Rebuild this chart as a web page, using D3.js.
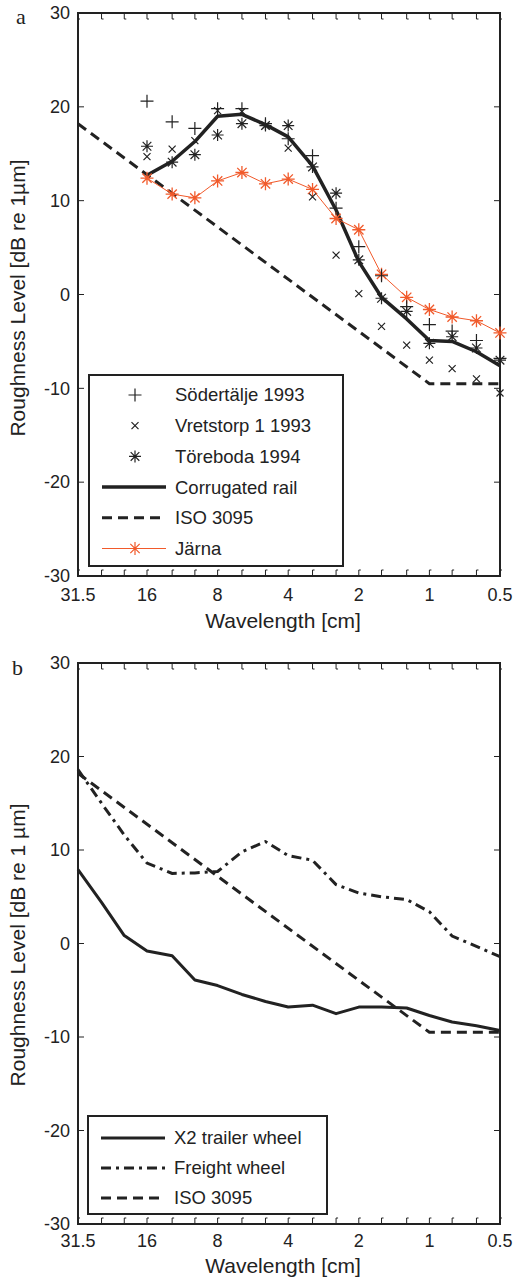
<!DOCTYPE html>
<html>
<head>
<meta charset="utf-8">
<script src="https://cdn.jsdelivr.net/npm/d3@7"></script>
<style>
  body { margin: 0; background: #fff; }
  text { fill: #222; }
</style>
</head>
<body>
<svg id="svg"></svg>
<script>
// third-octave band centre wavelengths [cm]
const bands = [31.5, 25, 20, 16, 12.5, 10, 8, 6.3, 5, 4, 3.15, 2.5, 2, 1.6, 1.25, 1, 0.8, 0.63, 0.5];
const xTickLabels = [31.5, 16, 8, 4, 2, 1, 0.5];
const yTicks = [-30, -20, -10, 0, 10, 20, 30];

// panel a (bands 16 .. 0.5 cm)
const bandsA = bands.slice(3);
const sodertalje = [20.6, 18.4, 17.7, 19.8, 19.8, 18.2, 16.6, 14.8, 9.2, 5.1, 2.0, -1.3, -3.2, -3.9, -4.9, -6.8];
const vretstorp = [14.7, 15.5, 16.4, 19.6, 19.5, 18.0, 15.6, 10.4, 4.2, 0.1, -3.4, -5.4, -7.0, -7.9, -9.0, -10.5];
const toreboda = [15.8, 14.1, 14.9, 17.0, 18.2, 18.0, 18.0, 13.6, 10.8, 3.7, -0.4, -1.8, -5.2, -4.5, -5.7, -7.0];
const corrugated = [12.7, 14.2, 16.3, 19.0, 19.2, 18.1, 16.8, 13.7, 9.0, 3.5, -0.3, -2.6, -4.9, -5.0, -6.1, -7.6];
const jarna = [12.4, 10.7, 10.3, 12.1, 13.0, 11.8, 12.3, 11.2, 8.1, 6.9, 2.15, -0.3, -1.6, -2.4, -2.8, -4.1];

// ISO 3095 limit
const isoBands = [31.5, 1, 0.5];
const isoLevel = [18.2, -9.5, -9.5];

// panel b (all bands)
const x2trailer = [7.9, 4.4, 0.85, -0.8, -1.3, -3.9, -4.5, -5.45, -6.2, -6.8, -6.6, -7.5, -6.8, -6.8, -6.9, -7.7, -8.4, -8.8, -9.3];
const freight = [18.6, 15.0, 11.6, 8.6, 7.5, 7.55, 7.7, 9.8, 10.9, 9.4, 8.9, 6.3, 5.4, 5.0, 4.7, 3.4, 0.8, -0.3, -1.4];

const red = '#f15a2b';
const ink = '#222';
const sans = '"Liberation Sans", Arial, sans-serif';
const serif = '"Liberation Serif", "DejaVu Serif", serif';

let svg = d3.select('#svg').attr('width', 513).attr('height', 1280);

function zip(xs, ys) {
   return xs.map((x, i) => [x, ys[i]]);
}

// marker paths
function plusPath(s) { return `M${-s},0H${s}M0,${-s}V${s}`; }
function crossPath(s) { return `M${-s},${-s}L${s},${s}M${-s},${s}L${s},${-s}`; }
function starPath(s) { return plusPath(s) + crossPath(s * 0.72); }

function addText(g, size) {
   return g.append('text').style('font-family', sans).attr('font-size', size);
}

function drawPanel(cfg) {
   let x = d3.scaleLog().domain([31.5, 0.5]).range([cfg.left, cfg.right]);
   let y = d3.scaleLinear().domain([-30, 30]).range([cfg.bottom, cfg.top]);
   let g = svg.append('g');

   // frame
   g.append('rect')
      .attr('x', cfg.left).attr('y', cfg.top)
      .attr('width', cfg.right - cfg.left).attr('height', cfg.bottom - cfg.top)
      .attr('fill', 'none').attr('stroke', ink).attr('stroke-width', 2);

   // x ticks, all third-octave bands, top and bottom, pointing inwards
   bands.forEach(b => {
      g.append('path')
         .attr('d', `M${x(b)},${cfg.top}v6h2M${x(b)},${cfg.bottom}v-6h2`)
         .attr('fill', 'none').attr('stroke', ink).attr('stroke-width', 1);
   });
   xTickLabels.forEach(b => {
      addText(g, 18)
         .attr('x', x(b)).attr('y', cfg.bottom + cfg.tickDy)
         .attr('text-anchor', 'middle')
         .text(b);
   });

   // y ticks left and right
   yTicks.forEach(v => {
      g.append('path')
         .attr('d', `M${cfg.left},${y(v)}h6M${cfg.right},${y(v)}h-6`)
         .attr('stroke', ink).attr('stroke-width', 1);
      addText(g, 18)
         .attr('x', 70).attr('y', y(v)).attr('dy', '0.35em')
         .attr('text-anchor', 'end')
         .text(v);
   });

   // titles
   addText(g, 21)
      .attr('x', 283).attr('y', cfg.bottom + cfg.titleDy)
      .attr('text-anchor', 'middle')
      .text('Wavelength [cm]');
   addText(g, 21)
      .attr('transform', `translate(25,${cfg.yLabelMid}) rotate(-90)`)
      .attr('text-anchor', 'middle')
      .text(cfg.yLabel);
   g.append('text')
      .attr('x', cfg.labelX).attr('y', cfg.labelY)
      .style('font-family', serif)
      .attr('font-size', 22)
      .text(cfg.label);

   let line = d3.line().x(d => x(d[0])).y(d => y(d[1]));
   return { g: g, x: x, y: y, line: line };
}

function drawLegend(g, box, rows) {
   g.append('rect')
      .attr('x', box.x).attr('y', box.y).attr('width', box.w).attr('height', box.h)
      .attr('fill', '#fff').attr('stroke', ink).attr('stroke-width', 2);
   rows.forEach((r, i) => {
      let cy = box.y + box.first + i * box.step;
      if (r.stroke) {
         g.append('line')
            .attr('x1', box.x + 13).attr('x2', box.x + 77)
            .attr('y1', cy).attr('y2', cy)
            .attr('stroke', r.stroke).attr('stroke-width', r.width)
            .attr('stroke-dasharray', r.dash || null);
      }
      if (r.marker) {
         g.append('path')
            .attr('d', r.marker)
            .attr('transform', `translate(${box.x + 46},${cy})`)
            .attr('fill', 'none').attr('stroke', r.markerColor || ink).attr('stroke-width', 1.2);
      }
      addText(g, 18.5)
         .attr('x', box.x + 86).attr('y', cy).attr('dy', '0.35em')
         .text(r.label);
   });
}

// ---------- panel a ----------
let pa = drawPanel({
   top: 13, bottom: 576, left: 78, right: 500,
   tickDy: 25, titleDy: 52, yLabelMid: 298,
   label: 'a', labelX: 16, labelY: 24,
   yLabel: 'Roughness Level [dB re 1µm]'
});

pa.g.append('path')
   .datum(zip(isoBands, isoLevel))
   .attr('d', pa.line)
   .attr('fill', 'none').attr('stroke', ink).attr('stroke-width', 3)
   .attr('stroke-dasharray', '10,6');

pa.g.append('path')
   .datum(zip(bandsA, corrugated))
   .attr('d', pa.line)
   .attr('fill', 'none').attr('stroke', ink).attr('stroke-width', 3.5)
   .attr('stroke-linejoin', 'round');

pa.g.append('path')
   .datum(zip(bandsA, jarna))
   .attr('d', pa.line)
   .attr('fill', 'none').attr('stroke', red).attr('stroke-width', 1);

function scatter(p, data, pathStr, color, width) {
   p.g.selectAll(null)
      .data(data)
      .join('path')
      .attr('d', pathStr)
      .attr('transform', d => `translate(${p.x(d[0])},${p.y(d[1])})`)
      .attr('fill', 'none').attr('stroke', color).attr('stroke-width', width);
}

scatter(pa, zip(bandsA, jarna), starPath(6.5), red, 1.3);
scatter(pa, zip(bandsA, sodertalje), plusPath(6.5), ink, 1.2);
scatter(pa, zip(bandsA, vretstorp), crossPath(3.5), ink, 1.2);
scatter(pa, zip(bandsA, toreboda), starPath(6), ink, 1.2);

drawLegend(pa.g, { x: 89, y: 375, w: 254, h: 191, first: 20, step: 30.7 }, [
   { label: 'Södertälje 1993', marker: plusPath(6.5) },
   { label: 'Vretstorp 1 1993', marker: crossPath(3.5) },
   { label: 'Töreboda 1994', marker: starPath(6) },
   { label: 'Corrugated rail', stroke: ink, width: 3.5 },
   { label: 'ISO 3095', stroke: ink, width: 3, dash: '10,6' },
   { label: 'Järna', stroke: red, width: 1, marker: starPath(6.5), markerColor: red }
]);

// ---------- panel b ----------
let pb = drawPanel({
   top: 663, bottom: 1224, left: 78, right: 500,
   tickDy: 23, titleDy: 49, yLabelMid: 945,
   label: 'b', labelX: 12, labelY: 675,
   yLabel: 'Roughness Level [dB re 1 µm]'
});

pb.g.append('path')
   .datum(zip(isoBands, isoLevel))
   .attr('d', pb.line)
   .attr('fill', 'none').attr('stroke', ink).attr('stroke-width', 3)
   .attr('stroke-dasharray', '10,6');

pb.g.append('path')
   .datum(zip(bands, freight))
   .attr('d', pb.line)
   .attr('fill', 'none').attr('stroke', ink).attr('stroke-width', 3)
   .attr('stroke-dasharray', '10,5,3,5');

pb.g.append('path')
   .datum(zip(bands, x2trailer))
   .attr('d', pb.line)
   .attr('fill', 'none').attr('stroke', ink).attr('stroke-width', 3)
   .attr('stroke-linejoin', 'round');

drawLegend(pb.g, { x: 88, y: 1116, w: 239, h: 98, first: 22, step: 30 }, [
   { label: 'X2 trailer wheel', stroke: ink, width: 3 },
   { label: 'Freight wheel', stroke: ink, width: 3, dash: '10,5,3,5' },
   { label: 'ISO 3095', stroke: ink, width: 3, dash: '10,6' }
]);
</script>
</body>
</html>
